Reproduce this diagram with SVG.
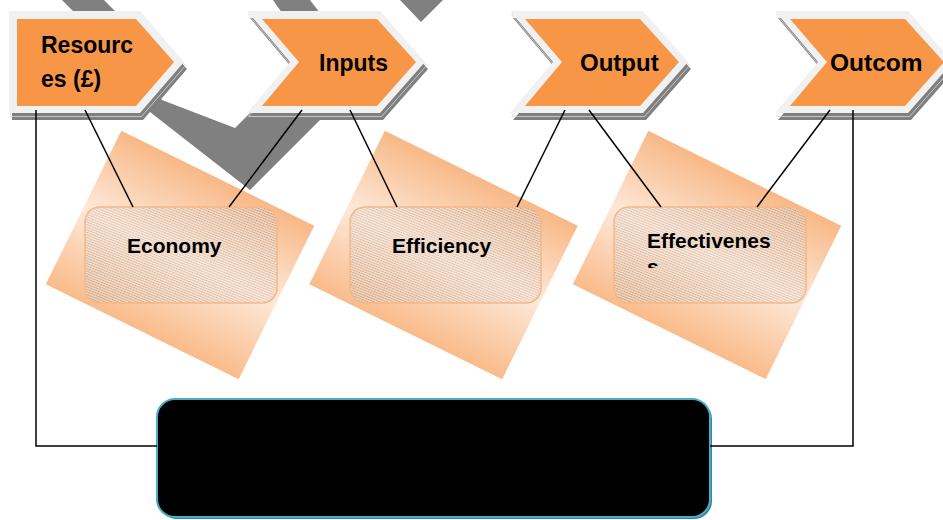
<svg xmlns="http://www.w3.org/2000/svg" width="943" height="520" viewBox="0 0 943 520">
  <defs>
    <style>
      .bg-arrow{fill:#808080}
      .chev-shadow{fill:#7f7f7f}
      .chev-edge{fill:none;stroke:#d8d8d8;stroke-width:0.8}
      .chev-rim{fill:#f1f1f1}
      .chev-face{fill:#f79646}
      .chev-text{font-family:"Liberation Sans",Arial,sans-serif;font-weight:bold;font-size:23px;fill:#000}
      .card{fill:url(#peach)}
      .tag-base{fill:#fbe2cf;fill-opacity:0.5}
      .tag-hatch{fill:url(#hatch)}
      .tag-sheen{fill:url(#sheen)}
      .tag-border{fill:none;stroke:#f6b886;stroke-width:1.5}
      .tag-text{font-family:"Liberation Sans",Arial,sans-serif;font-weight:bold;font-size:21px;fill:#000}
      .wire{fill:none;stroke:#000;stroke-width:1.5}
    </style>
    <linearGradient id="peach" x1="0" y1="0" x2="0" y2="1">
      <stop offset="0" stop-color="#f8b886"/>
      <stop offset="0.5" stop-color="#fde9da"/>
      <stop offset="1" stop-color="#f9bb8a"/>
    </linearGradient>
    <linearGradient id="sheen" x1="1" y1="0" x2="0" y2="1">
      <stop offset="0" stop-color="#fde8d9" stop-opacity="0"/>
      <stop offset="0.5" stop-color="#fdeadc" stop-opacity="0.45"/>
      <stop offset="1" stop-color="#fde8d9" stop-opacity="0"/>
    </linearGradient>
    <pattern id="hatch" patternUnits="userSpaceOnUse" width="40" height="2.4" patternTransform="rotate(22)">
      <rect width="40" height="2.4" fill="none"/>
      <line x1="0" y1="0.6" x2="40" y2="0.6" stroke="#6f625b" stroke-opacity="0.85" stroke-width="0.8" stroke-dasharray="1 0.6"/>
    </pattern>
    <clipPath id="tag3-clip">
      <rect x="614" y="207" width="192" height="61"/>
    </clipPath>
  </defs>

  <rect width="943" height="520" fill="#fff"/>

  <!-- grey zigzag arrows behind the chevrons -->
  <g id="backdrop">
    <polygon class="bg-arrow" points="62,0 104,0 115,11 150,80 162,100 235,128 300,63 377,63 250,190 150,112 120,70 73,11"/>
    <polygon class="bg-arrow" points="273,0 310,0 320,13 282,13"/>
    <polygon class="bg-arrow" points="400,0 443,0 421,22"/>
  </g>

  <!-- tilted peach cards -->
  <g id="cards">
    <rect class="card" x="-107.5" y="-85.5" width="215" height="171" transform="translate(180,255) rotate(26.2)"/>
    <rect class="card" x="-107.5" y="-85.5" width="215" height="171" transform="translate(443.5,255) rotate(26.2)"/>
    <rect class="card" x="-107.5" y="-85.5" width="215" height="171" transform="translate(707,255) rotate(26.2)"/>
  </g>

  <!-- process chevrons -->
  <g id="node-resources">
    <polygon class="chev-shadow" points="12,18 143,18 187,69 143,120 12,120"/>
    <polygon class="chev-edge" points="10.5,14.5 141.5,14.5 185.5,65.5 141.5,116.5 10.5,116.5"/>
    <polygon class="chev-rim" points="9,11 140,11 184,62 140,113 9,113"/>
    <polygon class="chev-face" points="17,19 136,19 174,62 136,106 17,106"/>
    <text class="chev-text" x="41" y="53">Resourc</text>
    <text class="chev-text" x="41" y="87">es (£)</text>
  </g>

  <g id="node-inputs">
    <polygon class="chev-shadow" points="250,18 383,18 428,69 383,120 250,120 293,69"/>
    <polygon class="chev-edge" points="248.5,14.5 381.5,14.5 426.5,65.5 381.5,116.5 248.5,116.5 291.5,65.5"/>
    <polygon class="chev-rim" points="247,11 380,11 425,62 380,113 247,113 290,62"/>
    <polygon class="chev-face" points="262,19 377,19 416,62 377,106 262,106 299,62"/>
    <text class="chev-text" x="319" y="71">Inputs</text>
  </g>

  <g id="node-output">
    <polygon class="chev-shadow" points="513,18 646,18 691,69 646,120 513,120 556,69"/>
    <polygon class="chev-edge" points="511.5,14.5 644.5,14.5 689.5,65.5 644.5,116.5 511.5,116.5 554.5,65.5"/>
    <polygon class="chev-rim" points="510,11 643,11 688,62 643,113 510,113 553,62"/>
    <polygon class="chev-face" points="525,19 640,19 679,62 640,106 525,106 562,62"/>
    <text class="chev-text" x="580" y="71" style="font-size:24px">Output</text>
  </g>

  <g id="node-outcome">
    <polygon class="chev-shadow" points="778,18 911,18 956,69 911,120 778,120 821,69"/>
    <polygon class="chev-edge" points="776.5,14.5 909.5,14.5 954.5,65.5 909.5,116.5 776.5,116.5 819.5,65.5"/>
    <polygon class="chev-rim" points="775,11 908,11 953,62 908,113 775,113 818,62"/>
    <polygon class="chev-face" points="790,19 905,19 944,62 905,106 790,106 827,62"/>
    <text class="chev-text" x="830" y="71" style="font-size:24.5px">Outcom</text>
  </g>

  <!-- measure tags -->
  <g id="node-economy">
    <rect class="tag-base" x="85" y="207" width="192" height="96" rx="15"/>
    <rect class="tag-hatch" x="85" y="207" width="192" height="96" rx="15"/>
    <rect class="tag-sheen" x="85" y="207" width="192" height="96" rx="15"/>
    <rect class="tag-border" x="85" y="207" width="192" height="96" rx="15"/>
    <text class="tag-text" x="127" y="253">Economy</text>
  </g>

  <g id="node-efficiency">
    <rect class="tag-base" x="350" y="207" width="191" height="96" rx="15"/>
    <rect class="tag-hatch" x="350" y="207" width="191" height="96" rx="15"/>
    <rect class="tag-sheen" x="350" y="207" width="191" height="96" rx="15"/>
    <rect class="tag-border" x="350" y="207" width="191" height="96" rx="15"/>
    <text class="tag-text" x="392" y="253">Efficiency</text>
  </g>

  <g id="node-effectiveness">
    <rect class="tag-base" x="614" y="207" width="192" height="96" rx="15"/>
    <rect class="tag-hatch" x="614" y="207" width="192" height="96" rx="15"/>
    <rect class="tag-sheen" x="614" y="207" width="192" height="96" rx="15"/>
    <rect class="tag-border" x="614" y="207" width="192" height="96" rx="15"/>
    <g clip-path="url(#tag3-clip)">
      <text class="tag-text" x="647" y="248">Effectivenes</text>
      <text class="tag-text" x="647" y="274">s</text>
    </g>
  </g>

  <!-- summary panel -->
  <g id="node-panel">
    <rect x="159" y="401" width="553" height="118" rx="18" fill="#31859c"/>
    <rect x="157" y="399" width="553" height="118" rx="18" fill="#000" stroke="#4bacc6" stroke-width="2"/>
  </g>

  <!-- connectors -->
  <g id="connectors">
    <polyline class="wire" points="36,110 36,446 157,446"/>
    <line class="wire" x1="85" y1="110" x2="133" y2="207"/>
    <line class="wire" x1="302" y1="110" x2="229" y2="207"/>
    <line class="wire" x1="350" y1="110" x2="397" y2="207"/>
    <line class="wire" x1="565" y1="110" x2="517" y2="207"/>
    <line class="wire" x1="589" y1="110" x2="661" y2="207"/>
    <line class="wire" x1="830" y1="110" x2="757" y2="207"/>
    <polyline class="wire" points="853,110 853,446 710,446"/>
  </g>
</svg>
